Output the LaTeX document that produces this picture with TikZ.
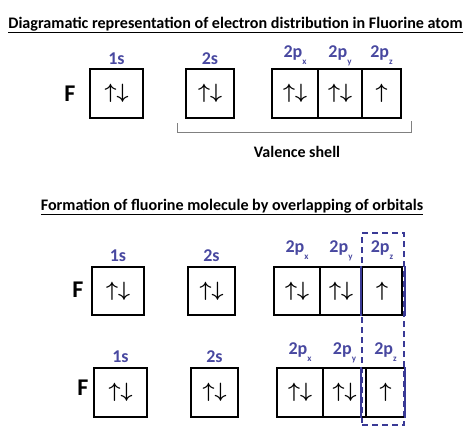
\documentclass[tikz,border=0pt]{standalone}
\usepackage{fontspec}
\setmainfont{Carlito}
\usepackage{xcolor}
\usetikzlibrary{positioning,calc}
\definecolor{orbblue}{RGB}{72,72,160}
\definecolor{lineblue}{RGB}{58,58,150}
\newcommand{\orbp}[1]{2p\raisebox{-7pt}{\fontsize{9}{9}\selectfont #1}}
\newcommand{\elpair}{\mbox{\boldmath$\uparrow\downarrow$}}
\newcommand{\elone}{\mbox{\boldmath$\uparrow$}}

\begin{document}
\begin{tikzpicture}[x=1pt,y=-1pt,
	orb/.style={draw,line width=1.8pt,inner sep=0pt,minimum height=49pt,font=\fontsize{20}{20}\selectfont},
	lbl/.style={anchor=base,text=orbblue,inner sep=0pt,font=\bfseries\fontsize{18}{18}\selectfont},
	ttl/.style={anchor=base,inner sep=0pt,font=\bfseries\fontsize{16.1}{16.1}\selectfont},
	elem/.style={inner sep=0pt,font=\bfseries\fontsize{24}{24}\selectfont},
	overlap/.style={draw=lineblue,line width=1.8pt,dash pattern=on 6pt off 4pt,inner sep=0pt},
	zline/.style={lineblue,line width=1.8pt},
	brk/.style={gray,line width=0.7pt}]
		\useasboundingbox (0,0) rectangle (474,445);
		
		% fluorine atom
		\node[ttl] (t1) at (235.5,28) {\underline{Diagramatic representation of electron distribution in Fluorine atom}};
		\node[elem] (fa) at (70,94) {F};
		\node[orb,minimum width=53pt] (a1s) at (116.5,93.5) {\elpair};
		\node[orb,minimum width=48pt] (a2s) at (210,93.5) {\elpair};
		\node[orb,minimum width=46pt] (a2px) at (295,93.5) {\elpair};
		\node[orb,minimum width=44pt] (a2py) at (340,93.5) {\elpair};
		\node[orb,minimum width=39pt] (a2pz) at (381.5,93.5) {\elone};
		\node[lbl] at ([yshift=4pt]a1s.north) {1s};
		\node[lbl] at ([yshift=4pt]a2s.north) {2s};
		\node[lbl] at ([yshift=11pt]a2px.north) {\orbp{x}};
		\node[lbl] at ([yshift=11pt]a2py.north) {\orbp{y}};
		\node[lbl] at ([yshift=11pt]a2pz.north) {\orbp{z}};
		\coordinate (bl) at (177,123);
		\coordinate (br) at (411,121);
		\draw[brk] (bl) -- ++(0,9) -| (br);
		\node[ttl,font=\bfseries\fontsize{16}{16}\selectfont] (vs) at (297,157) {Valence shell};
		
		% fluorine molecule
		\node[ttl] (t2) at (232,210) {\underline{Formation of fluorine molecule by overlapping of orbitals}};
		\node[overlap,minimum width=42pt,minimum height=192pt] (ovl) at (383,329) {};
		
		\node[elem] (fm) at (78,290) {F};
		\node[orb,minimum width=52pt,minimum height=48pt] (m1s) at (118,291) {\elpair};
		\node[orb,minimum width=47pt,minimum height=48pt] (m2s) at (211.5,291) {\elpair};
		\node[orb,minimum width=46pt,minimum height=48pt] (m2px) at (297,291) {\elpair};
		\node[orb,minimum width=42pt,minimum height=48pt] (m2py) at (341,291) {\elpair};
		\node[orb,minimum width=40pt,minimum height=48pt] (m2pz) at (382,291) {\elone};
		\node[lbl] at ([yshift=5pt]m1s.north) {1s};
		\node[lbl] at ([yshift=5pt]m2s.north) {2s};
		\node[lbl] at ([yshift=14pt]m2px.north) {\orbp{x}};
		\node[lbl] at ([yshift=14pt]m2py.north) {\orbp{y}};
		\node[lbl] at ([yshift=14pt]m2pz.north) {\orbp{z}};
		
		\node[elem] (fn) at (83,388) {F};
		\node[orb,minimum width=53pt] (n1s) at (120.5,392.5) {\elpair};
		\node[orb,minimum width=47pt] (n2s) at (214.5,392.5) {\elpair};
		\node[orb,minimum width=46pt] (n2px) at (300,392.5) {\elpair};
		\node[orb,minimum width=43pt] (n2py) at (344.5,392.5) {\elpair};
		\node[orb,minimum width=39pt] (n2pz) at (385.5,392.5) {\elone};
		\node[lbl] at ([yshift=5pt]n1s.north) {1s};
		\node[lbl] at ([yshift=5pt]n2s.north) {2s};
		\node[lbl] at ([yshift=13pt]n2px.north) {\orbp{x}};
		\node[lbl] at ([yshift=13pt]n2py.north) {\orbp{y}};
		\node[lbl] at ([yshift=13pt]n2pz.north) {\orbp{z}};
		
		% overlapping 2pz orbitals
		\draw[zline] (ovl.west |- m2pz.north) -- (ovl.west |- m2pz.south);
		\draw[zline] (ovl.east |- m2pz.north) -- (ovl.east |- m2pz.south);
		\draw[zline] (ovl.west |- n2pz.north) -- (ovl.west |- n2pz.south);
		\draw[zline] (ovl.east |- n2pz.north) -- (ovl.east |- n2pz.south);
\end{tikzpicture}
\end{document}
